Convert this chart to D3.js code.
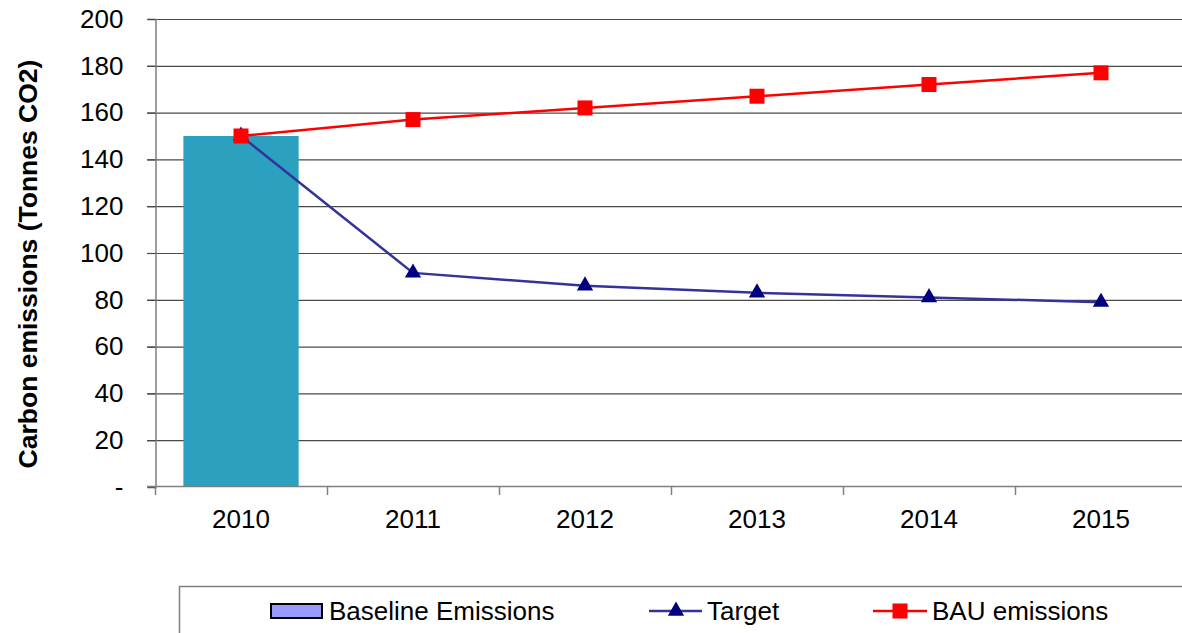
<!DOCTYPE html>
<html>
<head>
<meta charset="utf-8">
<script src="https://cdn.jsdelivr.net/npm/d3@7"></script>
<style>
  html, body { margin: 0; padding: 0; background: #fff; }
  svg { display: block; font-family: Arial, "Liberation Sans", sans-serif; }
</style>
</head>
<body>
<svg id="chart" width="1182" height="633"></svg>
<script>
// Emissions data, tonnes CO2 per year
const years = ["2010", "2011", "2012", "2013", "2014", "2015"];
const baseline = [150, null, null, null, null, null];
const target = [150, 91.5, 86, 83, 81, 79];
const bau = [150, 157, 162, 167, 172, 177];
const yTicks = [0, 20, 40, 60, 80, 100, 120, 140, 160, 180, 200];

const svg = d3.select("#chart");
const plotLeft = 155, plotRight = 1187, plotTop = 19, plotBottom = 487;
const fontSize = 26;

const x = d3.scaleBand().domain(years).range([plotLeft, plotRight]).padding(0);
const y = d3.scaleLinear().domain([0, 200]).range([plotBottom, plotTop]);

// Horizontal gridlines
svg.append("g")
  .selectAll("line")
  .data(yTicks.filter(d => d > 0))
  .join("line")
  .attr("x1", plotLeft - 8).attr("x2", 1182)
  .attr("y1", d => y(d) + 0.5).attr("y2", d => y(d) + 0.5)
  .attr("stroke", "#4a4a4a").attr("stroke-width", 1.2);

// Baseline bar
const barW = x.bandwidth() * 0.67;
svg.append("g")
  .selectAll("rect")
  .data(years.map((yr, i) => ({ yr, v: baseline[i] })).filter(d => d.v != null))
  .join("rect")
  .attr("x", d => x(d.yr) + (x.bandwidth() - barW) / 2)
  .attr("width", barW)
  .attr("y", d => y(d.v))
  .attr("height", d => y(0) - y(d.v))
  .attr("fill", "#2ca1bf");

// Y axis
const yAxis = svg.append("g").attr("transform", `translate(${plotLeft + 0.5},0)`)
  .call(d3.axisLeft(y).tickValues(yTicks).tickSize(8).tickPadding(24)
    .tickFormat(d => d === 0 ? "-" : d));
yAxis.select(".domain").attr("stroke", "#808080").attr("stroke-width", 1.5);
yAxis.selectAll(".tick line").attr("stroke", "#4a4a4a").attr("stroke-width", 1.2);
yAxis.selectAll(".tick text").attr("font-size", fontSize).attr("fill", "#000")
  .attr("font-family", "Arial, 'Liberation Sans', sans-serif");

// X axis
const xAxis = svg.append("g").attr("transform", `translate(0,${plotBottom - 0.5})`)
  .call(d3.axisBottom(x).tickSize(0).tickPadding(23));
xAxis.select(".domain").attr("stroke", "#808080").attr("stroke-width", 1.5)
  .attr("d", `M${plotLeft - 8},0H1182`);
xAxis.selectAll(".tick text").attr("font-size", fontSize).attr("fill", "#000")
  .attr("font-family", "Arial, 'Liberation Sans', sans-serif");
// Category boundary ticks
svg.append("g")
  .selectAll("line")
  .data(years.map(d => x(d)))
  .join("line")
  .attr("x1", d => d + 0.5).attr("x2", d => d + 0.5)
  .attr("y1", plotBottom).attr("y2", plotBottom + 8)
  .attr("stroke", "#808080").attr("stroke-width", 1.5);

// Y axis title
svg.append("text")
  .attr("transform", `translate(37,264) rotate(-90)`)
  .attr("text-anchor", "middle")
  .attr("font-size", 26.5).attr("font-weight", "bold")
  .text("Carbon emissions (Tonnes CO2)");

const cx = d => x(d) + x.bandwidth() / 2;
const line = d3.line().x((d, i) => cx(years[i])).y(d => y(d));

// Target line
svg.append("path").datum(target)
  .attr("d", line).attr("fill", "none")
  .attr("stroke", "#333399").attr("stroke-width", 2.5);
// BAU line
svg.append("path").datum(bau)
  .attr("d", line).attr("fill", "none")
  .attr("stroke", "#ff0000").attr("stroke-width", 2.5);

const tri = d3.symbol().type(d3.symbolTriangle).size(115);
svg.append("g").selectAll("path")
  .data(target)
  .join("path")
  .attr("d", tri)
  .attr("transform", (d, i) => `translate(${cx(years[i])},${y(d)})`)
  .attr("fill", "#000080");

svg.append("g").selectAll("rect")
  .data(bau)
  .join("rect")
  .attr("x", (d, i) => cx(years[i]) - 7.5)
  .attr("y", d => y(d) - 7.5)
  .attr("width", 15).attr("height", 15)
  .attr("fill", "#ff0000");

// Legend
const lg = svg.append("g");
lg.append("rect")
  .attr("x", 179.5).attr("y", 586.5)
  .attr("width", 1100).attr("height", 100)
  .attr("fill", "#fff").attr("stroke", "#808080").attr("stroke-width", 1.5);
lg.append("rect")
  .attr("x", 271).attr("y", 604).attr("width", 51).attr("height", 14)
  .attr("fill", "#9999ff").attr("stroke", "#000").attr("stroke-width", 2);
lg.append("text").attr("x", 329).attr("y", 620).attr("font-size", fontSize)
  .text("Baseline Emissions");

lg.append("line").attr("x1", 649).attr("x2", 702).attr("y1", 611).attr("y2", 611)
  .attr("stroke", "#333399").attr("stroke-width", 2.5);
lg.append("path").attr("d", tri).attr("transform", "translate(676,611)").attr("fill", "#000080");
lg.append("text").attr("x", 707).attr("y", 620).attr("font-size", fontSize).text("Target");

lg.append("line").attr("x1", 873).attr("x2", 927).attr("y1", 611).attr("y2", 611)
  .attr("stroke", "#ff0000").attr("stroke-width", 2.5);
lg.append("rect").attr("x", 892.5).attr("y", 603.5).attr("width", 15).attr("height", 15).attr("fill", "#ff0000");
lg.append("text").attr("x", 932).attr("y", 620).attr("font-size", fontSize).text("BAU emissions");
</script>
</body>
</html>
